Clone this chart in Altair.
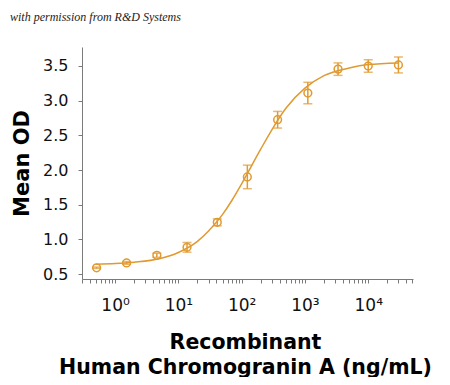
import altair as alt
import pandas as pd

# Measured points (concentration ng/mL, mean OD, error)
conc = [0.51, 1.52, 4.57, 13.7, 41.2, 123, 370, 1111, 3333, 10000, 30000]
mean_od = [0.59, 0.66, 0.77, 0.885, 1.245, 1.90, 2.725, 3.11, 3.455, 3.50, 3.515]
err = [0.01, 0.02, 0.03, 0.07, 0.05, 0.17, 0.12, 0.155, 0.09, 0.09, 0.115]

# Fitted curve
curve_x = [0.5, 1, 2, 5, 10, 20, 30, 50, 70, 100, 200, 300, 500, 1000, 2000, 5000, 10000, 30000]
curve_y = [0.64, 0.65, 0.67, 0.72, 0.81, 0.97, 1.12, 1.36, 1.56, 1.80, 2.30, 2.58, 2.89, 3.18, 3.36, 3.47, 3.52, 3.545]

y_ticks = [0.5, 1.0, 1.5, 2.0, 2.5, 3.0, 3.5]
x_ticks = [m * 10 ** e for e in range(-1, 5) for m in range(1, 10)]
x_ticks = [v for v in x_ticks if 0.3 <= v <= 50000]

watermark = "with permission from R&D Systems"
x_title = ["Recombinant", "Human Chromogranin A (ng/mL)"]
y_title = "Mean OD"

COLOR = "#E09A30"
AXIS_GREY = "#7a7a7a"

pts = pd.DataFrame({"conc": conc, "od": mean_od, "err": err})
pts["lo"] = pts["od"] - pts["err"]
pts["hi"] = pts["od"] + pts["err"]
crv = pd.DataFrame({"conc": curve_x, "od": curve_y})

xscale = alt.Scale(type="log", domain=[0.3, 51000], nice=False)
yscale = alt.Scale(domain=[0.428, 3.774], nice=False, zero=False)

xaxis = alt.Axis(
    values=x_ticks,
    labelExpr="abs(log(datum.value)/log(10) - round(log(datum.value)/log(10))) < 0.001 ? '10' + ['⁰','¹','²','³','⁴','⁵'][round(log(datum.value)/log(10))] : ''",
    labelOverlap=False, labelFlush=False,
    labelFont="DejaVu Sans", labelFontSize=17, labelColor="#111111",
    labelBaseline="alphabetic", labelPadding=27,
    tickSize=4, tickColor=AXIS_GREY, domainColor=AXIS_GREY, grid=False,
    title=x_title, titleFont="DejaVu Sans", titleFontSize=20.5, titleFontWeight="bold",
    titleColor="#000000", titleBaseline="alphabetic", titleY=69, titleX=163,
    titleAlign="center", titleLineHeight=25,
)
yaxis = alt.Axis(
    values=y_ticks, format=".1f", labelOverlap=False, labelFlush=False,
    labelFont="DejaVu Sans", labelFontSize=16, labelColor="#111111",
    labelPadding=10, tickSize=4, tickColor=AXIS_GREY, domainColor=AXIS_GREY, grid=False,
    title=y_title, titleFont="DejaVu Sans", titleFontSize=21, titleFontWeight="bold",
    titleColor="#000000", titleAngle=270, titleAlign="center", titleBaseline="alphabetic",
    titleX=-54, titleY=116,
)

X = alt.X("conc:Q", scale=xscale, axis=xaxis)


def Yf(field):
    return alt.Y(field + ":Q", scale=yscale, axis=yaxis)


line = alt.Chart(crv).mark_line(color=COLOR, strokeWidth=1.5, interpolate="monotone").encode(x=X, y=Yf("od"))
rules = alt.Chart(pts).mark_rule(color=COLOR, strokeWidth=1.5).encode(
    x=X, y=Yf("lo"), y2="hi:Q")
cap_hi = alt.Chart(pts).mark_tick(color=COLOR, orient="horizontal", size=9, thickness=1.5).encode(
    x=X, y=Yf("hi"))
cap_lo = alt.Chart(pts).mark_tick(color=COLOR, orient="horizontal", size=9, thickness=1.5).encode(
    x=X, y=Yf("lo"))
points = alt.Chart(pts).mark_point(shape="circle", filled=False, size=60, strokeWidth=1.5, color=COLOR, opacity=1).encode(
    x=X, y=Yf("od"))
wm = alt.Chart(pd.DataFrame({"t": [watermark]})).mark_text(
    align="left", baseline="alphabetic", font="Liberation Serif", fontStyle="italic",
    fontSize=12, color="#222222").encode(
    x=alt.value(-72), y=alt.value(-26), text="t:N")

chart = alt.layer(line, rules, cap_hi, cap_lo, points, wm).properties(
    width=331, height=232,
    autosize=alt.AutoSizeParams(type="none"),
    padding={"left": 74, "top": 39, "right": 29, "bottom": 98},
    background="white",
).configure_view(stroke=None).configure_axis(labelOverlap=False)

chart.save("out.html", embed_options={"renderer": "svg", "actions": False})
